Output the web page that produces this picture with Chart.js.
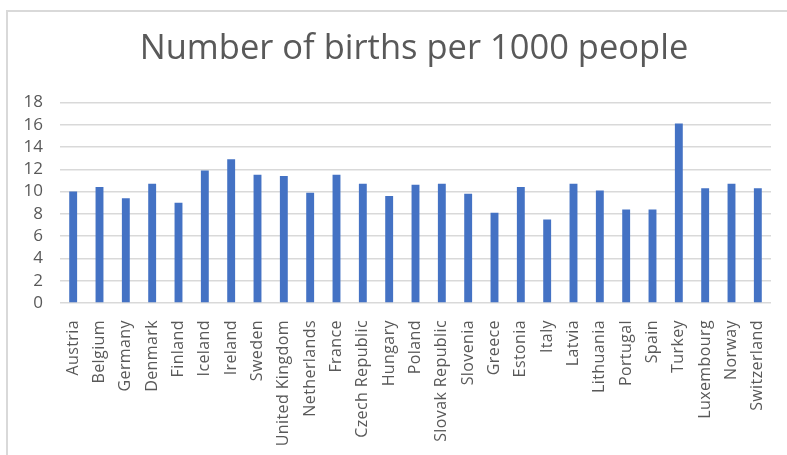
<!DOCTYPE html>
<html>
<head>
<meta charset="utf-8">
<script src="https://cdn.jsdelivr.net/npm/chart.js@4/dist/chart.umd.min.js"></script>
<style>
  html, body { margin: 0; padding: 0; background: #fff; }
  #wrap { position: relative; width: 787px; height: 455px; }
  #frame {
    position: absolute; left: 6px; top: 10px; right: -4px; bottom: -4px;
    border-left: 2px solid #d9d9d9; border-top: 2px solid #d9d9d9;
    pointer-events: none;
  }
</style>
</head>
<body>
<div id="wrap">
  <canvas id="birthChart" width="787" height="455"></canvas>
  <div id="frame"></div>
</div>
<script>
var countries = ["Austria", "Belgium", "Germany", "Denmark", "Finland", "Iceland", "Ireland", "Sweden",
  "United Kingdom", "Netherlands", "France", "Czech Republic", "Hungary", "Poland", "Slovak Republic",
  "Slovenia", "Greece", "Estonia", "Italy", "Latvia", "Lithuania", "Portugal", "Spain", "Turkey",
  "Luxembourg", "Norway", "Switzerland"];
var birthsPer1000 = [10.0, 10.4, 9.4, 10.7, 9.0, 11.9, 12.9, 11.5, 11.4, 9.9, 11.5, 10.7, 9.6, 10.6, 10.7,
  9.8, 8.1, 10.4, 7.5, 10.7, 10.1, 8.4, 8.4, 16.1, 10.3, 10.7, 10.3];
var yTicks = [0, 2, 4, 6, 8, 10, 12, 14, 16, 18];

var labelColor = '#595959';
var gridColor = '#d9d9d9';

// centre the title over the plot area instead of the whole canvas,
// and space out the category labels a little
var layoutTweaks = {
    id: 'layoutTweaks',
    afterLayout: function (chart) {
        if (chart.titleBlock) chart.titleBlock.left = 57;
    },
    beforeDraw: function (chart) {
        var xs = chart.scales.x;
        if (xs && !xs._spaced) {
            var orig = xs.drawLabels;
            xs.drawLabels = function (area) {
                var c = this.ctx;
                c.save();
                c.letterSpacing = '0.4px';
                orig.call(this, area);
                c.restore();
            };
            xs._spaced = true;
        }
    }
};

var ctx = document.getElementById('birthChart').getContext('2d');
var birthChart = new Chart(ctx, {
    type: 'bar',
    data: {
        labels: countries,
        datasets: [{
            label: 'Births per 1000',
            data: birthsPer1000,
            backgroundColor: '#4472c4',
            borderWidth: 0,
            barPercentage: 0.3,
            categoryPercentage: 1.0
        }]
    },
    plugins: [layoutTweaks],
    options: {
        responsive: false,
        animation: false,
        layout: { padding: { top: 10, right: 16, left: 0, bottom: 0 } },
        plugins: {
            legend: { display: false },
            tooltip: { enabled: false },
            title: {
                display: true,
                text: 'Number of births per 1000 people',
                color: labelColor,
                font: { family: 'Open Sans', size: 34.5, weight: 'normal' },
                padding: { top: 18, bottom: 33 }
            }
        },
        scales: {
            x: {
                grid: { display: false },
                border: { display: false },
                ticks: {
                    autoSkip: false,
                    minRotation: 90,
                    maxRotation: 90,
                    padding: 9,
                    color: labelColor,
                    font: { family: 'Open Sans', size: 16 }
                },
                afterFit: function (scale) { scale.height = 152; }
            },
            y: {
                min: 0,
                max: 18,
                afterBuildTicks: function (scale) {
                    scale.ticks = yTicks.map(function (v) { return { value: v }; });
                },
                grid: { color: gridColor, lineWidth: 1.5, drawTicks: false },
                border: { display: false },
                ticks: {
                    autoSkip: false,
                    padding: 17,
                    color: labelColor,
                    font: { family: 'Open Sans', size: 17 }
                },
                afterFit: function (scale) { scale.width = 60; }
            }
        }
    }
});
</script>
</body>
</html>
